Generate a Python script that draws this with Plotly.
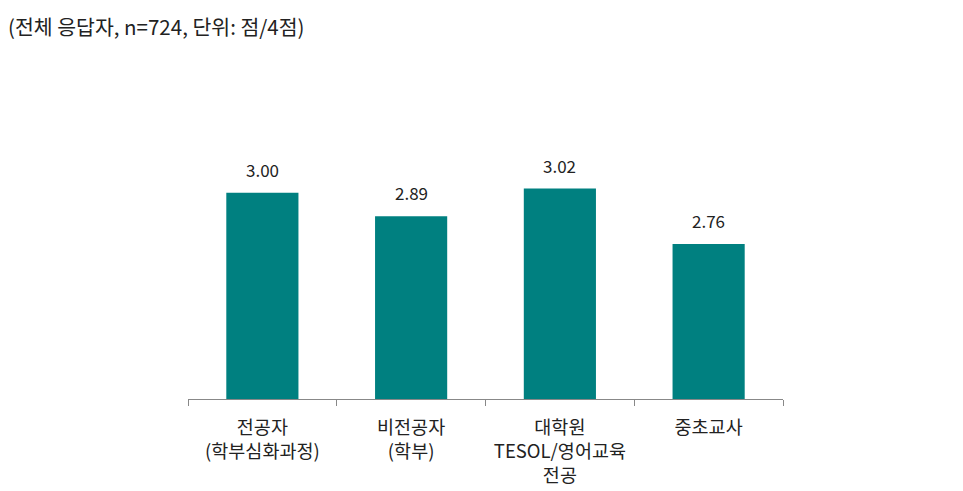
import plotly.graph_objects as go

categories = ["전공자<br>(학부심화과정)", "비전공자<br>(학부)", "대학원<br>TESOL/영어교육<br>전공", "중초교사"]
scores = [3.00, 2.89, 3.02, 2.76]

font_family = "Noto Sans CJK KR, Noto Sans, sans-serif"

fig = go.Figure()
fig.add_trace(go.Bar(
    x=categories,
    y=scores,
    marker=dict(color="#008080", line=dict(width=0)),
    width=0.485,
    hovertemplate="%{y:.2f}<extra></extra>",
))

# value labels sit a little higher above the bars than textposition="outside" gives
for cat, v in zip(categories, scores):
    fig.add_annotation(
        x=cat, y=v, text=f"{v:.2f}", showarrow=False,
        yanchor="bottom", yshift=9,
        font=dict(size=17, color="#222222", family=font_family),
    )

# page body has an 8px margin, so plot area is placed relative to that
fig.update_layout(
    width=963, height=491,
    margin=dict(l=180, r=188, t=58, b=97),
    plot_bgcolor="white", paper_bgcolor="white",
    font=dict(family=font_family, size=18.5, color="#222222"),
    showlegend=False,
)
fig.add_annotation(
    text="(전체 응답자, n=724, 단위: 점/4점)",
    xref="paper", yref="paper", x=-182/595, y=1 + 58/336,
    xanchor="left", yanchor="top", showarrow=False,
    font=dict(size=20.5, color="#222222", family=font_family),
)
fig.update_xaxes(
    showline=True, linecolor="#888888", linewidth=1,
    ticks="outside", tickson="boundaries", ticklen=6, tickcolor="#888888",
    tickfont=dict(size=18.5), ticklabelstandoff=12, showgrid=False,
)
fig.update_yaxes(range=[2.032, 3.595], visible=False, showgrid=False)

fig.write_html("out.html")
